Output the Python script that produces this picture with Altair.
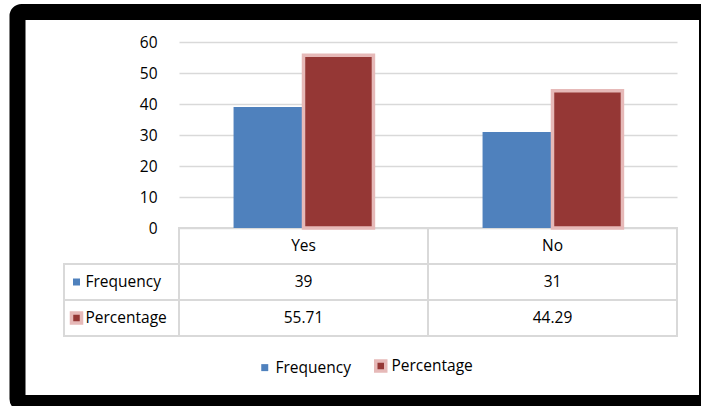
import altair as alt
import pandas as pd

# ---------------- data ----------------
categories = ["Yes", "No"]
series_names = ["Frequency", "Percentage"]
frequency = [39, 31]
percentage = [55.71, 44.29]
y_ticks = [0, 10, 20, 30, 40, 50, 60]
header_row = "Category"
row_order = [header_row] + series_names

FONT = "Open Sans"
FS = 15.5
BLUE = "#4f81bd"
RED = "#953735"
PINK = "#e6b9b8"
GRID = "#d9d9d9"

bars_df = pd.DataFrame({
    "category": categories * 2,
    "series": [series_names[0]] * len(categories) + [series_names[1]] * len(categories),
    "value": frequency + percentage,
})

cells = []
for i, c in enumerate(categories):
    cells.append({"row": header_row, "category": c, "label": c})
    cells.append({"row": series_names[0], "category": c, "label": f"{frequency[i]}"})
    cells.append({"row": series_names[1], "category": c, "label": f"{percentage[i]:.2f}"})
table_df = pd.DataFrame(cells)
labels_df = pd.DataFrame({"row": series_names, "col": ["label"] * len(series_names),
                          "series": series_names})

# ---------------- scales ----------------
x_cat = alt.Scale(domain=categories, paddingInner=0, paddingOuter=0)
x_off = alt.Scale(domain=series_names, paddingInner=0, paddingOuter=0.78)
y_val = alt.Scale(domain=[0, 60], nice=False)
y_row = alt.Scale(domain=row_order, range=[186, 294], paddingInner=0, paddingOuter=0)
x_lab = alt.Scale(domain=["label"], range=[-115, 0], paddingInner=0, paddingOuter=0)
color_scale = alt.Scale(domain=series_names, range=[BLUE, RED])
stroke_scale = alt.Scale(domain=series_names, range=[BLUE, PINK])
sw_scale = alt.Scale(domain=series_names, range=[0, 3.5])
size_scale = alt.Scale(domain=series_names, range=[49, 100])

color_enc = alt.Color("series:N", scale=color_scale, title=None)
stroke_enc = alt.Stroke("series:N", scale=stroke_scale, title=None)
sw_enc = alt.StrokeWidth("series:O", scale=sw_scale, title=None)
size_enc = alt.Size("series:O", scale=size_scale, title=None)

# ---------------- layers ----------------
frame = alt.Chart(pd.DataFrame({"k": [0]})).mark_rect(
    fill="black", fillOpacity=0, stroke="black", strokeWidth=16, cornerRadius=4
).encode(
    x=alt.value(-161.5), x2=alt.value(528), y=alt.value(-30), y2=alt.value(361)
)

table_cells = alt.Chart(table_df).mark_rect(
    fill="white", fillOpacity=0, stroke=GRID, strokeWidth=2
).encode(
    x=alt.X("category:N", scale=x_cat, axis=None),
    y=alt.Y("row:N", scale=y_row, axis=None),
)

table_text = alt.Chart(table_df).mark_text(
    font=FONT, fontSize=FS, color="black", baseline="middle"
).encode(
    x=alt.X("category:N", scale=x_cat, axis=None),
    y=alt.Y("row:N", scale=y_row, axis=None),
    text="label:N",
)

label_cells = alt.Chart(labels_df).mark_rect(
    fill="white", fillOpacity=0, stroke=GRID, strokeWidth=2
).encode(
    x=alt.X("col:N", scale=x_lab, axis=None),
    y=alt.Y("row:N", scale=y_row, axis=None),
)

label_text = alt.Chart(labels_df).mark_text(
    font=FONT, fontSize=FS, color="black", baseline="middle", align="left", dx=-36
).encode(
    x=alt.X("col:N", scale=x_lab, axis=None),
    y=alt.Y("row:N", scale=y_row, axis=None),
    text="row:N",
)

label_swatch = alt.Chart(labels_df).mark_square(xOffset=-45, opacity=1).encode(
    x=alt.X("col:N", scale=x_lab, axis=None),
    y=alt.Y("row:N", scale=y_row, axis=None),
    color=color_enc, stroke=stroke_enc, strokeWidth=sw_enc, size=size_enc,
)

bars = alt.Chart(bars_df).mark_bar().encode(
    x=alt.X("category:N", scale=x_cat, axis=None),
    xOffset=alt.XOffset("series:N", scale=x_off),
    y=alt.Y("value:Q", scale=y_val, axis=alt.Axis(
        values=y_ticks, grid=True, gridColor=GRID, gridWidth=1.5, domain=False,
        ticks=False, labelPadding=22, labelFont=FONT, labelFontSize=FS,
        labelColor="black", title=None)),
    color=color_enc, stroke=stroke_enc, strokeWidth=sw_enc,
)

chart = alt.layer(
    frame, table_cells, bars, table_text, label_cells, label_text, label_swatch
).resolve_scale(
    x="independent", y="independent"
).properties(
    width=498, height=186,
    padding={"left": 179, "top": 42, "right": 24, "bottom": 178},
    autosize=alt.AutoSizeParams(type="none"),
    background="white",
).configure_view(
    strokeWidth=0
).configure_legend(
    orient="none", legendX=78, legendY=316, direction="horizontal",
    labelFont=FONT, labelFontSize=FS, labelColor="black",
    symbolType="square", labelOffset=3, columnPadding=17,
)

chart.save("out.html", embed_options={"renderer": "svg", "actions": False})
